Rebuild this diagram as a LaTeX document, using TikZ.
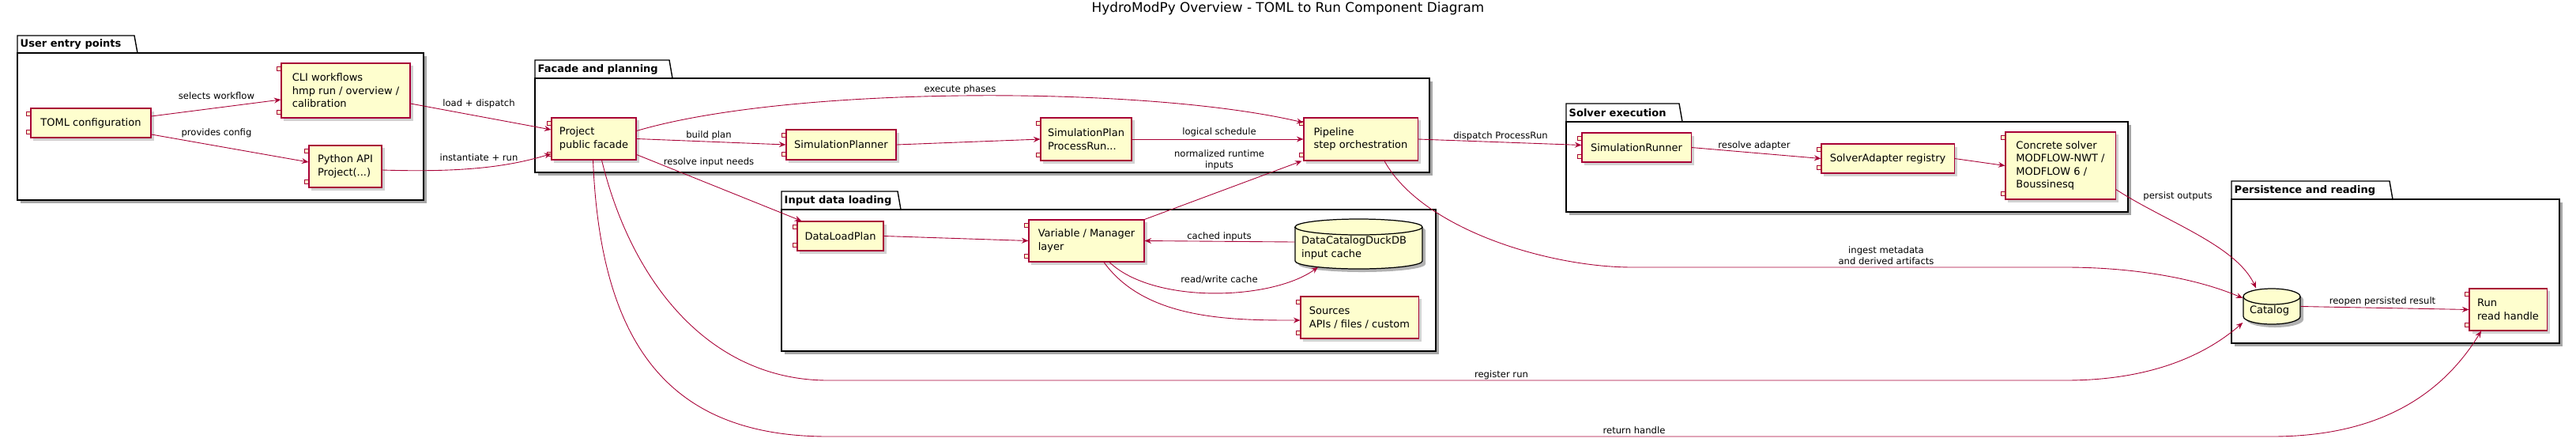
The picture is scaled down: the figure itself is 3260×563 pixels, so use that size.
\documentclass[tikz,border=0pt]{standalone}
\usepackage{fontspec}
\setmainfont{DejaVu Sans}
\usetikzlibrary{calc}
\usetikzlibrary{shadows}
\usetikzlibrary{arrows.meta}
\definecolor{umlred}{HTML}{A80036}
\definecolor{umlfill}{HTML}{FEFECE}
\newcommand{\compfont}{\fontsize{3.7}{4.7}\selectfont}
\newcommand{\lblfont}{\fontsize{3.3}{4.1}\selectfont}
\newcommand{\pkgfont}{\fontsize{3.7}{4.7}\selectfont\bfseries}
% package: x1, tab top, tab right, body top, x2, y2, title
\newcommand{\pkg}[7]{%
  \fill[black!35] (#1+4,-#4-4) rectangle (#5+4,-#6-4);
  \draw[line width=0.4pt, fill=white] (#1,-#2) -- (#3-4,-#2) -- (#3,-#4) -- (#1,-#4) -- cycle;
  \draw[line width=0.4pt, fill=white] (#1,-#4) rectangle (#5,-#6);
  \node[font=\pkgfont, anchor=west, inner sep=0] at (#1+3,-#2/2-#4/2) {#7};
}
% database: name, cx, cy, w, h, text
\newcommand{\dbnode}[6]{%
  \pgfmathsetmacro\dbrx{#4/200}%
  \pgfmathsetmacro\dbt{#3+#5/2-10}%
  \pgfmathsetmacro\dbb{#3-#5/2+10}%
  \begin{scope}[shift={(#2,0)}]
    \fill[black!30] ({-#4/2+4},\dbt-4) -- ({-#4/2+4},\dbb-4) arc[start angle=180, end angle=360, x radius=\dbrx cm, y radius=0.1cm]
      -- ({#4/2+4},\dbt-4) arc[start angle=0, end angle=180, x radius=\dbrx cm, y radius=0.1cm] -- cycle;
    \draw[line width=0.35pt, fill=umlfill] ({-#4/2},\dbt) -- ({-#4/2},\dbb) arc[start angle=180, end angle=360, x radius=\dbrx cm, y radius=0.1cm]
      -- ({#4/2},\dbt) arc[start angle=0, end angle=180, x radius=\dbrx cm, y radius=0.1cm] -- cycle;
    \draw[line width=0.35pt] ({-#4/2},\dbt) arc[start angle=180, end angle=360, x radius=\dbrx cm, y radius=0.1cm];
  \end{scope}
  \node[minimum width=#4*0.01cm, minimum height=#5*0.01cm, inner sep=0, font=\compfont, align=left] (#1) at (#2,#3) {};
  \node[font=\compfont, align=left, anchor=west, inner sep=0] at ($(#1.west)+(8,-5)$) {#6};
}
\tikzset{
  comp/.style={draw=umlred, fill=umlfill, line width=0.32pt, font=\compfont, align=left, inner sep=0,
    drop shadow={shadow xshift=0.035cm, shadow yshift=-0.035cm, fill=black!40, opacity=0.45},
    append after command={\pgfextra{
      \draw[umlred, fill=umlfill, line width=0.25pt] ($(\tikzlastnode.north west)+(-5,-5)$) rectangle ++(10,-5);
      \draw[umlred, fill=umlfill, line width=0.25pt] ($(\tikzlastnode.south west)+(-5,5)$) rectangle ++(10,5);}}},
  lbl/.style={font=\lblfont, inner sep=0, align=center},
  arr/.style={draw=umlred, line width=0.25pt, -{Stealth[length=0.085cm, width=0.07cm, inset=0.03cm]}},
  link/.style={draw=umlred, line width=0.25pt}
}
\begin{document}
\begin{tikzpicture}[x=0.01cm, y=0.01cm]
  \useasboundingbox (0,0) rectangle (3260,-563);
  \node[font=\fontsize{4.8}{6}\selectfont] (title) at (1630,-11) {HydroModPy Overview - TOML to Run Component Diagram};

  % packages
  \pkg{22}{45}{174}{67}{536}{253}{User entry points}
  \pkg{677}{76}{851}{99}{1809}{218}{Facade and planning}
  \pkg{989}{242}{1140}{265}{1817}{444}{Input data loading}
  \pkg{1982}{131}{2129}{154}{2693}{268}{Solver execution}
  \pkg{2824}{229}{3028}{252}{3239}{434}{Persistence and reading}

  % components
  \node[comp, minimum width=1.52cm, minimum height=0.37cm] (toml) at (115,-155.5) {TOML configuration};
  \node[comp, minimum width=1.63cm, minimum height=0.69cm] (cli) at (437.5,-114.5) {CLI workflows\\hmp run / overview /\\calibration};
  \node[comp, minimum width=0.92cm, minimum height=0.53cm] (py) at (437,-210.5) {Python API\\Project(...)};
  \node[comp, minimum width=1.07cm, minimum height=0.53cm] (project) at (751.5,-175.5) {Project\\public facade};
  \node[comp, minimum width=1.39cm, minimum height=0.38cm] (planner) at (1064.5,-183) {SimulationPlanner};
  \node[comp, minimum width=1.15cm, minimum height=0.54cm] (plan) at (1374.5,-176) {SimulationPlan\\ProcessRun...};
  \node[comp, minimum width=1.44cm, minimum height=0.54cm] (pipeline) at (1722,-176) {Pipeline\\step orchestration};
  \node[comp, minimum width=1.09cm, minimum height=0.37cm] (dataload) at (1063.5,-298.5) {DataLoadPlan};
  \node[comp, minimum width=1.46cm, minimum height=0.53cm] (var) at (1375,-304.5) {Variable / Manager\\layer};
  \dbnode{db}{1719.5}{-308.5}{161}{63}{DataCatalogDuckDB\\input cache}
  \node[comp, minimum width=1.49cm, minimum height=0.53cm] (sources) at (1720.5,-401.5) {Sources\\APIs / files / custom};
  \node[comp, minimum width=1.38cm, minimum height=0.37cm] (runner) at (2071,-186.5) {SimulationRunner};
  \node[comp, minimum width=1.68cm, minimum height=0.37cm] (adapter) at (2389,-200.5) {SolverAdapter registry};
  \node[comp, minimum width=1.39cm, minimum height=0.85cm] (solver) at (2607.5,-209.5) {Concrete solver\\MODFLOW-NWT /\\MODFLOW 6 /\\Boussinesq};
  \dbnode{catalog}{2875}{-387.5}{72}{45}{Catalog}
  \node[comp, minimum width=0.98cm, minimum height=0.53cm] (run) at (3174,-391.5) {Run\\read handle};

  % connectors
  \draw[arr] ($(toml.east)+(0,8.5)$) -- ($(cli.west)+(0,-11.5)$);
  \draw[arr] ($(toml.east)+(0,-14.5)$) -- ($(py.west)+(0,5.5)$);
  \draw[arr] ($(cli.east)+(0,-16.5)$) -- ($(project.west)+(0,11.5)$);
  \draw[arr] ($(py.east)+(0,-4.5)$) .. controls (580,-218) and (640,-212) .. ($(project.west)+(0,-19)$);
  \draw[arr] (project.east) -- (planner.west);
  \draw[arr] (planner.east) -- (plan.west);
  \draw[arr] (plan.east) -- (pipeline.west);
  \draw[arr] ($(project.east)+(0,10)$) .. controls (1000,-108) and (1450,-108) .. ($(pipeline.west)+(0,21)$);
  \draw[arr] ($(project.east)+(0,-20)$) -- ($(dataload.north west)+(6,0)$);
  \draw[arr] (dataload.east) -- (var.west);
  \draw[arr] ($(db.west)+(0,2.5)$) -- (var.east);
  \draw[arr] ($(var.south)+(29,0)$) .. controls (1460,-385) and (1610,-380) .. ($(db.south)+(-51.5,3)$);
  \draw[arr] ($(var.south)+(22,0)$) .. controls (1450,-405) and (1560,-405) .. ($(sources.west)+(0,-3.5)$);
  \draw[arr] (var.north east) -- ($(pipeline.south west)+(-2,0)$);
  \draw[arr] (pipeline.east) -- ($(runner.west)+(0,3)$);
  \draw[arr] (runner.east) -- (adapter.west);
  \draw[arr] (adapter.east) -- (solver.west);
  \draw[arr] ($(solver.east)+(0,-30)$) .. controls (2740,-280) and (2830,-310) .. ($(catalog.north)+(-20,0)$);
  \draw[arr] ($(pipeline.south)+(30,0)$) .. controls (1800,-290) and (1960,-338) .. (2066,-338)
    -- (2614,-338) .. controls (2700,-338) and (2780,-352) .. ($(catalog.west)+(0,10.5)$);
  \draw[arr] ($(project.south)+(10,0)$) .. controls (800,-360) and (900,-481) .. (1048,-481)
    -- (2614,-481) .. controls (2720,-481) and (2790,-450) .. ($(catalog.west)+(0,-20.5)$);
  \draw[arr] ($(project.south)+(-1,0)$) .. controls (760,-440) and (850,-552) .. (1048,-552)
    -- (2875,-552) .. controls (3010,-552) and (3090,-500) .. ($(run.south)+(-34,0)$);
  \draw[arr] (catalog.east) -- (run.west);

  % labels
  \node[lbl] (lsel) at (274,-121) {selects workflow};
  \node[lbl] (lprov) at (274,-168) {provides config};
  \node[lbl] (lload) at (606,-131) {load + dispatch};
  \node[lbl] (linst) at (606,-199) {instantiate + run};
  \node[lbl] (lbuild) at (897,-171) {build plan};
  \node[lbl] (lres) at (897,-205) {resolve input needs};
  \node[lbl] (lexec) at (1215,-113) {execute phases};
  \node[lbl] (lsched) at (1543,-167) {logical schedule};
  \node[lbl] (lnorm) at (1543,-202) {normalized runtime\\inputs};
  \node[lbl] (lcache) at (1543,-299) {cached inputs};
  \node[lbl] (lrw) at (1543,-354) {read/write cache};
  \node[lbl] (ldisp) at (1899,-172) {dispatch ProcessRun};
  \node[lbl] (ladapt) at (2220,-184) {resolve adapter};
  \node[lbl] (lpers) at (2756,-248) {persist outputs};
  \node[lbl] (ling) at (2387,-323) {ingest metadata\\and derived artifacts};
  \node[lbl] (lreg) at (1900,-474) {register run};
  \node[lbl] (lret) at (2068,-544) {return handle};
  \node[lbl] (lreop) at (3015,-381) {reopen persisted result};
\end{tikzpicture}
\end{document}
